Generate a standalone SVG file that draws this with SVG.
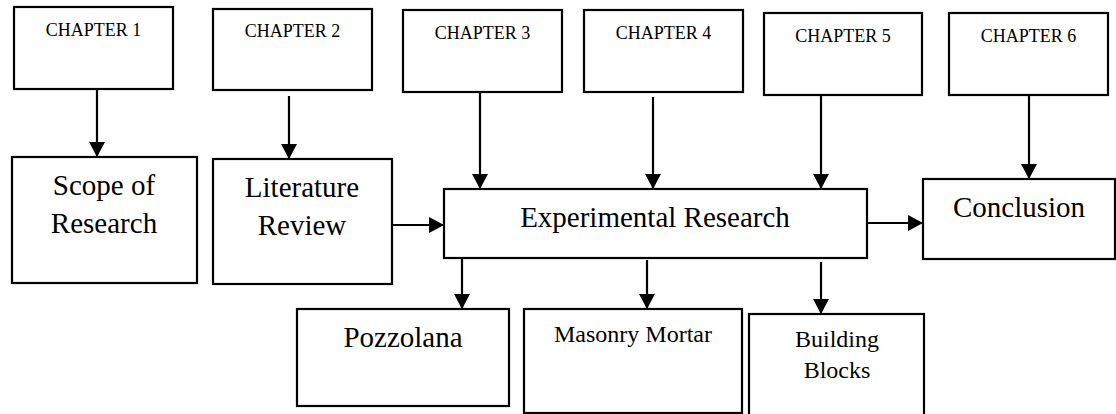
<svg xmlns="http://www.w3.org/2000/svg" width="1116" height="414" viewBox="0 0 1116 414">
<style>
.box{fill:#fff;stroke:#000;stroke-width:2.2}
.t{font-family:"Liberation Serif","Times New Roman",serif;fill:#000;text-anchor:middle}
.ch{font-size:18px}
.big{font-size:29px}
.mid{font-size:24px}
.c{stroke:#000;stroke-width:2.2;fill:none;marker-end:url(#ah)}
</style>
<defs>
<marker id="ah" markerUnits="userSpaceOnUse" markerWidth="16" markerHeight="16" viewBox="0 0 14 15" refX="14" refY="7.5" orient="auto">
<polygon points="0,0 14,7.5 0,15" fill="#000"/>
</marker>
</defs>
<rect width="1116" height="414" fill="#fff"/>
<g id="connectors">
<line class="c" x1="97" y1="89" x2="97" y2="157"/>
<line class="c" x1="289" y1="96" x2="289" y2="159"/>
<line class="c" x1="480" y1="92" x2="480" y2="189"/>
<line class="c" x1="653" y1="97" x2="653" y2="189"/>
<line class="c" x1="821" y1="95" x2="821" y2="189"/>
<line class="c" x1="1029" y1="95" x2="1029" y2="179"/>
<line class="c" x1="392" y1="225" x2="444" y2="225"/>
<line class="c" x1="867" y1="223" x2="923" y2="223"/>
<line class="c" x1="462" y1="259" x2="462" y2="309"/>
<line class="c" x1="647" y1="260" x2="647" y2="309"/>
<line class="c" x1="821" y1="262" x2="821" y2="314"/>
</g>
<g id="ch1"><rect class="box" x="14" y="7" width="159" height="82"/><text class="t ch" x="93.5" y="36">CHAPTER 1</text></g>
<g id="ch2"><rect class="box" x="213" y="9" width="159" height="81"/><text class="t ch" x="292.5" y="37">CHAPTER 2</text></g>
<g id="ch3"><rect class="box" x="403" y="10" width="159" height="82"/><text class="t ch" x="482.5" y="39">CHAPTER 3</text></g>
<g id="ch4"><rect class="box" x="584" y="10" width="159" height="82"/><text class="t ch" x="663.5" y="39">CHAPTER 4</text></g>
<g id="ch5"><rect class="box" x="764" y="13" width="158" height="82"/><text class="t ch" x="843" y="42">CHAPTER 5</text></g>
<g id="ch6"><rect class="box" x="949" y="13" width="159" height="82"/><text class="t ch" x="1028.5" y="42">CHAPTER 6</text></g>
<g id="scope"><rect class="box" x="12" y="157" width="185" height="126"/><text class="t big" x="104" y="195">Scope of</text><text class="t big" x="104" y="233">Research</text></g>
<g id="literature"><rect class="box" x="213" y="159" width="179" height="125"/><text class="t big" x="302" y="197">Literature</text><text class="t big" x="302" y="235">Review</text></g>
<g id="experimental"><rect class="box" x="444" y="189" width="423" height="69"/><text class="t big" x="655" y="227">Experimental Research</text></g>
<g id="conclusion"><rect class="box" x="923" y="179" width="192" height="80"/><text class="t big" x="1019" y="217">Conclusion</text></g>
<g id="pozzolana"><rect class="box" x="297" y="309" width="212" height="97"/><text class="t big" x="403" y="347">Pozzolana</text></g>
<g id="mortar"><rect class="box" x="524" y="309" width="218" height="104"/><text class="t mid" x="633" y="342">Masonry Mortar</text></g>
<g id="blocks"><rect class="box" x="749" y="314" width="175" height="104"/><text class="t mid" x="837" y="347">Building</text><text class="t mid" x="837" y="378">Blocks</text></g>
</svg>
